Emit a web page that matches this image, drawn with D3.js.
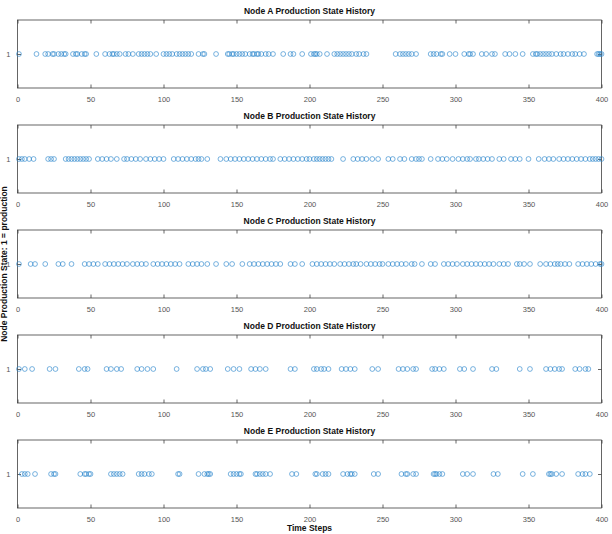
<!DOCTYPE html>
<html>
<head>
<meta charset="utf-8">
<script src="https://cdn.jsdelivr.net/npm/d3@7"></script>
<style>
  body { margin: 0; background: #fff; }
  text { font-family: "Liberation Sans", Arial, sans-serif; }
</style>
</head>
<body>
<div id="chart"></div>
<script>
const nodeNames = ["A", "B", "C", "D", "E"];
const xTicks = [0, 50, 100, 150, 200, 250, 300, 350, 400];
const yTicks = [1];

// time steps at which each node was in production (state = 1)
const nodeA = [1, 13, 19, 21, 24, 25, 28, 30, 32, 33, 38, 40, 41, 44, 46, 47, 54, 60, 63, 65, 66, 68, 70, 74, 76, 79, 83, 85, 87, 89, 91, 95, 100, 102, 104, 106, 109, 111, 113, 115, 117, 119, 124, 127, 128, 136, 144, 145, 147, 148, 150, 152, 154, 156, 159, 161, 162, 164, 165, 167, 170, 172, 175, 182, 187, 189, 195, 201, 203, 204, 205, 207, 212, 217, 219, 221, 223, 225, 227, 229, 232, 234, 237, 239, 259, 262, 264, 266, 268, 270, 273, 283, 285, 287, 290, 291, 296, 300, 306, 309, 310, 312, 318, 321, 325, 327, 334, 337, 341, 346, 353, 355, 356, 358, 360, 362, 364, 366, 369, 372, 374, 377, 380, 382, 385, 388, 397, 398, 399, 400];
const nodeB = [1, 3, 5, 8, 11, 21, 23, 25, 33, 35, 37, 39, 41, 43, 45, 47, 49, 55, 58, 61, 64, 68, 73, 75, 78, 81, 84, 88, 91, 94, 97, 100, 107, 110, 113, 116, 119, 122, 124, 126, 130, 139, 143, 146, 149, 152, 155, 158, 161, 164, 167, 170, 173, 175, 180, 183, 186, 189, 192, 195, 198, 200, 203, 205, 207, 209, 211, 213, 215, 223, 230, 233, 236, 239, 243, 247, 254, 257, 262, 265, 270, 273, 275, 277, 283, 288, 291, 294, 298, 302, 305, 308, 310, 314, 316, 319, 322, 325, 330, 333, 338, 341, 344, 350, 357, 361, 364, 367, 371, 374, 377, 380, 383, 386, 389, 392, 394, 396, 398, 400];
const nodeC = [1, 9, 12, 19, 28, 31, 37, 46, 49, 52, 55, 60, 63, 66, 69, 72, 75, 79, 82, 85, 88, 93, 96, 99, 102, 105, 108, 111, 117, 120, 123, 126, 130, 136, 143, 147, 154, 159, 162, 165, 168, 171, 174, 177, 180, 187, 190, 195, 202, 205, 208, 211, 214, 217, 221, 224, 227, 230, 232, 235, 239, 242, 245, 248, 250, 254, 257, 260, 263, 266, 270, 272, 277, 283, 286, 292, 295, 298, 301, 305, 308, 311, 314, 317, 320, 323, 326, 330, 333, 336, 342, 344, 347, 351, 358, 362, 365, 368, 370, 372, 375, 378, 384, 387, 390, 393, 396, 399, 400];
const nodeD = [1, 5, 10, 22, 26, 42, 46, 48, 61, 64, 68, 71, 82, 85, 89, 93, 109, 123, 127, 129, 132, 144, 148, 152, 160, 163, 166, 170, 187, 190, 203, 205, 208, 210, 213, 222, 225, 228, 231, 243, 247, 261, 264, 267, 271, 273, 284, 286, 289, 292, 303, 306, 312, 325, 328, 344, 351, 362, 365, 368, 371, 373, 382, 385, 389, 391];
const nodeE = [3, 5, 7, 12, 23, 25, 26, 43, 46, 47, 49, 50, 64, 66, 68, 70, 72, 83, 85, 87, 90, 92, 110, 111, 124, 128, 130, 131, 132, 146, 148, 150, 152, 153, 163, 164, 166, 168, 170, 173, 188, 191, 204, 205, 209, 211, 213, 223, 226, 228, 229, 231, 244, 247, 263, 266, 267, 271, 273, 285, 286, 287, 289, 291, 305, 308, 312, 326, 329, 346, 353, 364, 365, 366, 369, 373, 384, 387, 389, 392];

const series = [nodeA, nodeB, nodeC, nodeD, nodeE];

const W = 612, H = 534;
const left = 17.5, right = 601.5;
const firstTop = 20, step = 105, panelH = 68;
const axisColor = "#404040";
const markColor = "#2b86cc";

const svg = d3.select("#chart")
  .append("svg")
  .attr("width", W)
  .attr("height", H)
  .style("background", "#fff");

const x = d3.scaleLinear().domain([0, 400]).range([left, right]);

series.forEach((vals, i) => {
  const top = firstTop + i * step;
  const y = d3.scaleLinear().domain([0, 2]).range([top + panelH, top]);
  const g = svg.append("g");

  g.append("rect")
    .attr("x", left).attr("y", top)
    .attr("width", right - left).attr("height", panelH)
    .attr("fill", "none").attr("stroke", axisColor).attr("stroke-width", 0.8);

  // ticks point inward on all four sides, like a boxed matlab axes
  const xb = g.append("g")
    .attr("transform", `translate(0,${top + panelH})`)
    .call(d3.axisBottom(x).tickValues(xTicks).tickSize(-3.5).tickPadding(9).tickFormat(d3.format("d")));
  const xt = g.append("g")
    .attr("transform", `translate(0,${top})`)
    .call(d3.axisTop(x).tickValues(xTicks).tickSize(-3.5).tickFormat(""));
  const yl = g.append("g")
    .attr("transform", `translate(${left},0)`)
    .call(d3.axisLeft(y).tickValues(yTicks).tickSize(-3.5).tickPadding(7).tickFormat(d3.format("d")));
  const yr = g.append("g")
    .attr("transform", `translate(${right},0)`)
    .call(d3.axisRight(y).tickValues(yTicks).tickSize(-3.5).tickFormat(""));

  [xb, xt, yl, yr].forEach(a => {
    a.select(".domain").remove();
    a.selectAll("line").attr("stroke", axisColor).attr("stroke-width", 0.8);
    a.selectAll("text").attr("fill", "#555").style("font-size", "7.5px")
      .style("font-family", "'Liberation Sans', Arial, sans-serif");
  });

  g.append("text")
    .attr("x", (left + right) / 2)
    .attr("y", top - 6)
    .attr("text-anchor", "middle")
    .style("font-size", "8.5px")
    .style("font-weight", "bold")
    .attr("fill", "#111")
    .text(`Node ${nodeNames[i]} Production State History`);

  g.selectAll("circle")
    .data(vals)
    .enter().append("circle")
    .attr("cx", d => x(d))
    .attr("cy", y(1))
    .attr("r", 2.4)
    .attr("fill", "none")
    .attr("stroke", markColor)
    .attr("stroke-opacity", 0.7)
    .attr("stroke-width", 0.9);
});

svg.append("text")
  .attr("transform", `translate(7,${firstTop + 2 * step + panelH / 2}) rotate(-90)`)
  .attr("text-anchor", "middle")
  .style("font-size", "8.5px")
  .style("font-weight", "bold")
  .attr("fill", "#111")
  .text("Node Production State: 1 = production");

svg.append("text")
  .attr("x", (left + right) / 2)
  .attr("y", 531)
  .attr("text-anchor", "middle")
  .style("font-size", "8.5px")
  .style("font-weight", "bold")
  .attr("fill", "#111")
  .text("Time Steps");
</script>
</body>
</html>
